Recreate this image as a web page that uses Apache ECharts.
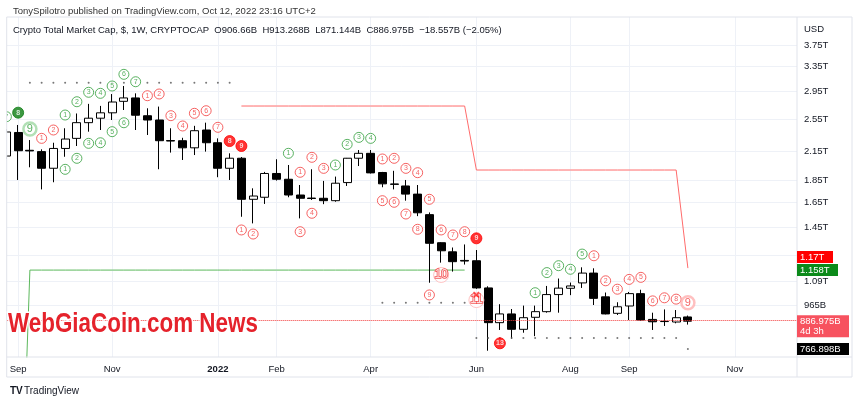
<!DOCTYPE html>
<html><head><meta charset="utf-8">
<script src="https://cdn.jsdelivr.net/npm/echarts@6/dist/echarts.min.js"></script>
<style>html,body{margin:0;padding:0;background:#fff}#c{width:860px;height:403px}</style>
</head><body><div id="c"></div>
<script>
// Weekly candles (values in trillions USD), Aug 30 2021 .. Oct 10 2022
const weeks = ['2021-08-30','2021-09-06','2021-09-13','2021-09-20','2021-09-27','2021-10-04','2021-10-11','2021-10-18','2021-10-25','2021-11-01','2021-11-08','2021-11-15','2021-11-22','2021-11-29','2021-12-06','2021-12-13','2021-12-20','2021-12-27','2022-01-03','2022-01-10','2022-01-17','2022-01-24','2022-01-31','2022-02-07','2022-02-14','2022-02-21','2022-02-28','2022-03-07','2022-03-14','2022-03-21','2022-03-28','2022-04-04','2022-04-11','2022-04-18','2022-04-25','2022-05-02','2022-05-09','2022-05-16','2022-05-23','2022-05-30','2022-06-06','2022-06-13','2022-06-20','2022-06-27','2022-07-04','2022-07-11','2022-07-18','2022-07-25','2022-08-01','2022-08-08','2022-08-15','2022-08-22','2022-08-29','2022-09-05','2022-09-12','2022-09-19','2022-09-26','2022-10-03','2022-10-10'];
const opens  = [2.101,2.376,2.165,2.150,1.971,2.186,2.304,2.501,2.560,2.633,2.796,2.846,2.593,2.536,2.278,2.276,2.193,2.407,2.252,1.971,2.077,1.676,1.694,1.918,1.861,1.714,1.687,1.685,1.664,1.829,2.077,2.131,1.928,1.816,1.797,1.722,1.547,1.336,1.274,1.218,1.216,1.055,0.880,0.921,0.850,0.905,0.932,1.019,1.053,1.083,1.140,1.007,0.924,0.960,1.024,0.895,0.886,0.883,0.90666];
const highs  = [2.420,2.471,2.284,2.176,2.252,2.429,2.624,2.759,2.730,2.904,3.029,2.915,2.696,2.720,2.429,2.311,2.460,2.501,2.304,2.131,2.090,1.775,1.934,2.066,2.005,1.806,1.961,1.845,1.887,2.080,2.168,2.168,1.934,1.945,1.854,1.806,1.565,1.340,1.303,1.324,1.286,1.064,0.969,0.945,0.962,0.962,1.066,1.108,1.085,1.175,1.169,1.030,0.979,1.033,1.045,0.927,0.943,0.940,0.913268];
const lows   = [2.069,1.854,1.981,1.765,1.832,2.093,2.214,2.386,2.407,2.536,2.672,2.407,2.345,1.961,2.139,2.058,2.112,2.150,1.881,1.854,1.530,1.478,1.636,1.848,1.694,1.517,1.670,1.634,1.655,1.797,1.994,1.918,1.785,1.765,1.664,1.535,1.084,1.204,1.149,1.192,1.050,0.760,0.847,0.810,0.835,0.820,0.927,0.927,1.016,1.055,0.965,0.919,0.916,0.892,0.889,0.847,0.865,0.877,0.871144];
const closes = [2.382,2.160,2.158,1.971,2.186,2.296,2.501,2.560,2.633,2.786,2.846,2.600,2.536,2.276,2.272,2.193,2.398,2.252,1.971,2.077,1.676,1.705,1.918,1.861,1.714,1.685,1.683,1.664,1.823,2.077,2.131,1.924,1.817,1.812,1.722,1.562,1.332,1.281,1.210,1.214,1.055,0.880,0.921,0.850,0.903,0.932,1.019,1.054,1.066,1.140,0.999,0.921,0.956,1.024,0.892,0.884,0.885,0.903,0.886975];

// TDST-style step levels: [fromIndex, toIndex, level]
const resistanceSteps = [[20,39,2.728],[40,57,1.953],[58,58,1.17]];
const supportSteps    = [[1,1,0.20],[2,39,1.158]];
// dotted level rows: [fromIndex, toIndex, level]
const dotRows = [[2,19,3.081],[32,39,0.977],[40,57,0.812],[58,58,0.766898]];

// count markers: [weekIndex, level, text]
const greenCounts = [[0,2.580,'7'],[5,2.603,'1'],[6,2.790,'2'],[7,2.931,'3'],[8,2.915,'4'],[9,3.029,'5'],[10,3.219,'6'],[11,3.097,'7'],
  [5,1.960,'1'],[6,2.076,'2'],[7,2.245,'3'],[8,2.252,'4'],[9,2.386,'5'],[10,2.500,'6'],
  [24,2.131,'1'],[28,2.005,'1'],[29,2.233,'2'],[30,2.316,'3'],[31,2.304,'4'],
  [45,1.029,'1'],[46,1.143,'2'],[47,1.185,'3'],[48,1.163,'4'],[49,1.259,'5']];
const redCounts = [[3,2.304,'1'],[4,2.407,'2'],[12,2.879,'1'],[13,2.905,'2'],[14,2.594,'3'],[15,2.458,'4'],[16,2.626,'5'],[17,2.662,'6'],[18,2.441,'7'],
  [20,1.428,'1'],[21,1.398,'2'],[25,1.930,'1'],[26,2.087,'2'],[27,1.970,'3'],[25,1.415,'3'],[26,1.558,'4'],
  [32,2.069,'1'],[33,2.076,'2'],[34,1.970,'3'],[35,1.926,'4'],[36,1.676,'5'],[37,1.428,'6'],[38,1.391,'7'],[39,1.415,'8'],
  [32,1.664,'5'],[33,1.650,'6'],[34,1.552,'7'],[35,1.433,'8'],[36,1.017,'9'],
  [50,1.248,'1'],[51,1.095,'2'],[52,1.048,'3'],[53,1.103,'4'],[54,1.115,'5'],[55,0.986,'6'],[56,1.002,'7'],[57,0.995,'8']];
const redFilledCounts = [[19,2.272,'8'],[20,2.214,'9'],[40,1.367,'9'],[42,0.790,'13']];
const greenFilledCounts = [[1,2.635,'8']];
const greenBigCounts = [[2,2.420,'9']];
const redBigCounts = [[58,0.976,'9']];
const redOutlineCounts = [[37,1.129,'10'],[40,0.990,'11']];
const redCrossMarks = [[40,1.013]];

const xTickIdx  = [1,9,18,23,31,40,48,53,62];
const xTickText = ['Sep','Nov','2022','Feb','Apr','Jun','Aug','Sep','Nov'];
const yTickVals = [3.75,3.35,2.95,2.55,2.15,1.85,1.65,1.45,1.09,0.965];
const yTickText = ['3.75T','3.35T','2.95T','2.55T','2.15T','1.85T','1.65T','1.45T','1.09T','965B'];
const yGridVals = [3.75,3.35,2.95,2.55,2.15,1.85,1.65,1.45,1.25,1.09,0.965];

const lastClose = 0.886975, lastResistance = 1.17, lastSupport = 1.158, lastDot = 0.766898;

const FONT = "'Liberation Sans', Arial, sans-serif";
const RED = '#f23b3b', GREEN = '#2f9e3a';

function steps(arr){ const out=[]; arr.forEach(s=>{ for(let i=s[0];i<=s[1];i++) out.push([i,s[2]]); }); return out; }
function pts(arr){ return arr.map(d=>({value:[d[0],d[1]], name:d[2]||''})); }

const candleData = weeks.map((w,i)=>[i, opens[i], closes[i], lows[i], highs[i]]);

function countSeries(data, opts){
  return Object.assign({
    type:'scatter', data: pts(data), clip:false, symbol:'circle', z:6,
    symbolSize:10,
    itemStyle:{color:'#fff', borderColor:RED, borderWidth:1},
    label:{show:true, position:'inside', formatter:'{b}', color:RED, fontSize:7, fontFamily:FONT},
    emphasis:{disabled:true}, silent:true
  }, opts);
}

const option = {
  animation:false,
  textStyle:{fontFamily:FONT},
  grid:{left:6.7, right:63, top:17, bottom:46},
  xAxis:{
    type:'value', min:0.0255, max:67.285,
    axisLine:{show:false}, axisTick:{show:false, customValues:xTickIdx},
    splitLine:{show:true, lineStyle:{color:'#eef1f7', width:1}},
    axisLabel:{customValues:xTickIdx, margin:7, color:'#131722', fontSize:9.5, fontFamily:FONT,
      formatter:(v)=>{ const k=xTickIdx.indexOf(Math.round(v)); const t=k>=0?xTickText[k]:''; return t==='2022'?'{b|2022}':t; },
      rich:{b:{fontWeight:'bold', fontSize:9.5, color:'#131722'}}}
  },
  yAxis:{
    type:'log', logBase:10, position:'right', min:0.7355, max:4.343,
    axisLine:{show:false}, axisTick:{show:false, customValues:yGridVals},
    splitLine:{show:true, lineStyle:{color:'#eef1f7', width:1}},
    axisLabel:{customValues:yTickVals, margin:7, color:'#131722', fontSize:9.5, fontFamily:FONT,
      formatter:(v)=>{ let k=-1; yTickVals.forEach((t,i)=>{ if(Math.abs(t-v)<1e-6) k=i; }); return k>=0?yTickText[k]:''; }}
  },
  series:[
    {type:'line', data:steps(resistanceSteps), showSymbol:false, symbol:'none', lineStyle:{color:'#ff6b6b', width:1}, z:2, silent:true},
    {type:'line', data:steps(supportSteps), showSymbol:false, symbol:'none', lineStyle:{color:'#5cb85c', width:1}, z:2, silent:true},
    {type:'candlestick', data:candleData, encode:{x:0, y:[1,2,3,4]}, barWidth:8.5, clip:false, z:3,
      itemStyle:{color:'#ffffff', color0:'#000000', borderColor:'#000000', borderColor0:'#000000', borderWidth:1},
      markLine:{silent:true, symbol:['none','none'], label:{show:false},
        lineStyle:{color:RED, type:'dotted', width:1}, data:[{yAxis:lastClose}]}},
    {type:'scatter', data:steps(dotRows), clip:false, symbol:'circle', symbolSize:2, itemStyle:{color:'#555'}, z:4, silent:true},
    countSeries(greenCounts, {itemStyle:{color:'#fff', borderColor:GREEN, borderWidth:1},
      label:{show:true, position:'inside', formatter:'{b}', color:GREEN, fontSize:7, fontFamily:FONT}}),
    countSeries(redCounts, {}),
    countSeries(redFilledCounts, {symbolSize:11, itemStyle:{color:'#ff0000', borderColor:'#ff0000', borderWidth:1},
      label:{show:true, position:'inside', formatter:'{b}', color:'#fff', fontSize:7, fontWeight:'bold', fontFamily:FONT}}),
    countSeries(greenFilledCounts, {symbolSize:11, itemStyle:{color:'#0b7d12', borderColor:'#0b7d12', borderWidth:1},
      label:{show:true, position:'inside', formatter:'{b}', color:'#fff', fontSize:7, fontWeight:'bold', fontFamily:FONT}}),
    countSeries(greenBigCounts, {symbolSize:13, itemStyle:{color:'#fff', borderColor:'#9fd8a3', borderWidth:2.5},
      label:{show:true, position:'inside', formatter:'{b}', color:GREEN, fontSize:11, fontFamily:FONT}}),
    countSeries(redBigCounts, {symbolSize:13, itemStyle:{color:'#fff', borderColor:'#ffb0b0', borderWidth:2.5},
      label:{show:true, position:'inside', formatter:'{b}', color:RED, fontSize:11, fontFamily:FONT}}),
    countSeries(redOutlineCounts, {symbolSize:15, itemStyle:{color:'#fff', borderColor:'#ffb3b3', borderWidth:1},
      label:{show:true, position:'inside', formatter:'{b}', color:'#fff', textBorderColor:'#f03030', textBorderWidth:1.6, fontSize:12, fontFamily:FONT}}),
    {type:'scatter', data:redCrossMarks.map(d=>({value:d, name:'×'})), clip:false, symbolSize:1, itemStyle:{color:'rgba(0,0,0,0)'}, z:7, silent:true,
      label:{show:true, position:'inside', formatter:'{b}', color:'#ff2020', fontSize:13, fontWeight:'bold', fontFamily:FONT}}
  ]
};

const chart = echarts.init(document.getElementById('c'));
chart.setOption(option);

function py(v){ return chart.convertToPixel({yAxisIndex:0}, v); }
const AX = 797;
function badge(v, text, bg, w, dy, sub){
  const y = py(v) + dy;
  const h = sub ? 22 : 12;
  const top = y - 6;
  const els = [{type:'rect', shape:{x:AX, y:top, width:w, height:h}, style:{fill:bg}, z:200},
    {type:'text', x:AX+3, y:top+6, style:{text:text, fill:'#fff', font:'9.5px '+FONT, verticalAlign:'middle', align:'left'}, z:201}];
  if(sub) els.push({type:'text', x:AX+3, y:top+16, style:{text:sub, fill:'#fff', font:'9.5px '+FONT, verticalAlign:'middle', align:'left'}, z:201});
  return els;
}

const g = [
  {type:'rect', shape:{x:0, y:0, width:6.7, height:403}, style:{fill:'#fff'}, z:150},
  {type:'line', shape:{x1:6.7, y1:17, x2:852, y2:17}, style:{stroke:'#e0e3eb', lineWidth:1}, z:151},
  {type:'line', shape:{x1:6.7, y1:17, x2:6.7, y2:377}, style:{stroke:'#e0e3eb', lineWidth:1}, z:151},
  {type:'line', shape:{x1:AX, y1:17, x2:AX, y2:377}, style:{stroke:'#e0e3eb', lineWidth:1}, z:151},
  {type:'line', shape:{x1:852, y1:17, x2:852, y2:377}, style:{stroke:'#e0e3eb', lineWidth:1}, z:151},
  {type:'line', shape:{x1:6.7, y1:357, x2:852, y2:357}, style:{stroke:'#e0e3eb', lineWidth:1}, z:151},
  {type:'line', shape:{x1:6.7, y1:377, x2:852, y2:377}, style:{stroke:'#e0e3eb', lineWidth:1}, z:151},
  {type:'text', x:13, y:11, style:{text:'TonySpilotro published on TradingView.com, Oct 12, 2022 23:16 UTC+2', fill:'#333', font:'9.5px '+FONT, verticalAlign:'middle'}, z:160},
  {type:'text', x:13, y:30, style:{text:'Crypto Total Market Cap, $, 1W, CRYPTOCAP  O906.66B  H913.268B  L871.144B  C886.975B  \u221218.557B (\u22122.05%)', fill:'#131722', font:'9.5px '+FONT, verticalAlign:'middle'}, z:160},
  {type:'text', x:804, y:29, style:{text:'USD', fill:'#131722', font:'9.5px '+FONT, verticalAlign:'middle'}, z:160},
  {type:'text', x:8, y:325, scaleX:0.83, style:{text:'WebGiaCoin.com News', fill:'#e5222b', stroke:'#fff', lineWidth:3, strokeFirst:true, font:'bold 27px '+FONT, verticalAlign:'middle'}, z:170},
  {type:'text', x:10, y:391, style:{text:'TV', fill:'#131722', font:'bold 10px '+FONT, verticalAlign:'middle'}, z:160},
  {type:'text', x:24, y:391, style:{text:'TradingView', fill:'#131722', font:'10px '+FONT, verticalAlign:'middle'}, z:160}
];
[].concat(
  badge(lastResistance, '1.17T', '#ff0000', 36, -11),
  badge(lastSupport, '1.158T', '#0b8a1a', 41, 0),
  badge(lastClose, '886.975B', '#f7525f', 52, 0, '4d 3h'),
  badge(lastDot, '766.898B', '#000000', 52, 0)
).forEach(e=>g.push(e));
chart.setOption({graphic:{elements:g}});
</script>
</body></html>
